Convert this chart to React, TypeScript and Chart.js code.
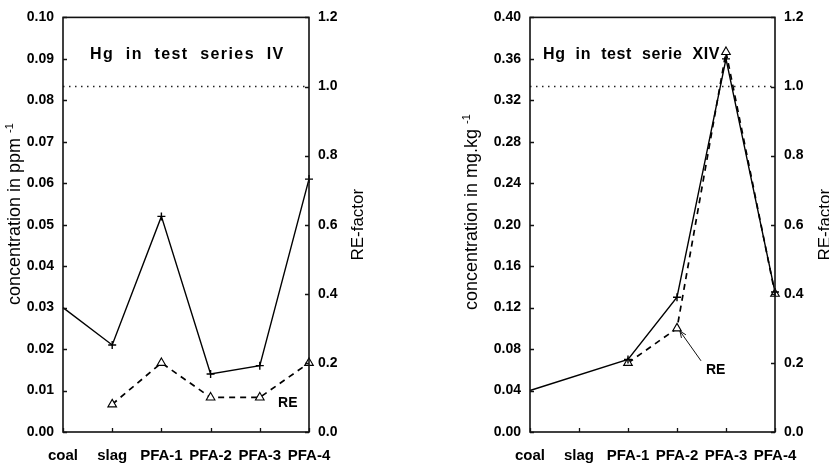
import React, { useEffect, useRef } from "react";
import { Chart, registerables } from "chart.js";
Chart.register(...registerables);

// ---- data ----
const categories = ["coal", "slag", "PFA-1", "PFA-2", "PFA-3", "PFA-4"];
// test series IV (concentration in ppm, RE-factor)
const concIV = [0.03, 0.021, 0.052, 0.014, 0.016, 0.061];
const reIV = [null, 0.08, 0.2, 0.1, 0.1, 0.2];
// test serie XIV (concentration in mg/kg, RE-factor)
const concXIV = [0.04, null, 0.07, 0.13, 0.36, 0.135];
const reXIV = [null, null, 0.2, 0.3, 1.1, 0.4];
// RE = 1.0 reference
const refIV = [1, 1, 1, 1, 1, 1];
const refXIV = [1, 1, 1, 1, 1, 1];
const concTicksIV = { min: 0, max: 0.1, step: 0.01 };
const concTicksXIV = { min: 0, max: 0.4, step: 0.04 };
const reTicks = { min: 0, max: 1.2, step: 0.2 };

const FONT = "'Liberation Sans', Arial, Helvetica, sans-serif";

type Cfg = {
  conc: (number | null)[];
  re: (number | null)[];
  ref: number[];
  concTicks: { min: number; max: number; step: number };
  leftW: number;
  rightW: number;
  title: string;
  titleDx: number;
  titleSpacing: string;
  yTitle: string;
  yTitleX: number;
  yTitleBottom: number;
  reTitleX: number;
  reLabel: { x: number; y: number };
  arrow?: { x1: number; y1: number; x2: number; y2: number };
};

function makeChart(canvas: HTMLCanvasElement, cfg: Cfg) {
  const tickFont = { family: FONT, size: 14, weight: "bold" as const };
  const xFont = { family: FONT, size: 15, weight: "bold" as const };
  const overlay = {
    id: "overlay",
    afterDraw(chart: any) {
      const ctx = chart.ctx as CanvasRenderingContext2D;
      const { left, right, top, bottom } = chart.chartArea;
      const xs = chart.scales.x;
      const ys = chart.scales.y;
      const y1s = chart.scales.y1;
      ctx.save();
      ctx.strokeStyle = "#111";
      ctx.lineWidth = 1.6;
      ctx.strokeRect(left, top, right - left, bottom - top);
      ctx.lineWidth = 1.3;
      ctx.beginPath();
      ys.ticks.forEach((t: any) => {
        const p = Math.round(ys.getPixelForValue(t.value)) + 0.5;
        ctx.moveTo(left, p);
        ctx.lineTo(left + 4, p);
      });
      y1s.ticks.forEach((t: any) => {
        const p = Math.round(y1s.getPixelForValue(t.value)) + 0.5;
        ctx.moveTo(right - 4, p);
        ctx.lineTo(right, p);
      });
      categories.forEach((_, i) => {
        const p = Math.round(xs.getPixelForValue(i)) + 0.5;
        ctx.moveTo(p, bottom);
        ctx.lineTo(p, bottom - 4);
      });
      ctx.stroke();

      ctx.fillStyle = "#000";
      // title
      ctx.font = `bold 16px ${FONT}`;
      (ctx as any).letterSpacing = cfg.titleSpacing;
      ctx.textAlign = "left";
      ctx.textBaseline = "middle";
      ctx.fillText(cfg.title, left + cfg.titleDx, top + 37);
      (ctx as any).letterSpacing = "0px";

      // RE label
      ctx.font = `bold 14px ${FONT}`;
      ctx.textAlign = "center";
      const lx = xs.getPixelForValue(cfg.reLabel.x);
      const ly = y1s.getPixelForValue(cfg.reLabel.y);
      ctx.fillText("RE", lx, ly);
      if (cfg.arrow) {
        const ax1 = xs.getPixelForValue(cfg.arrow.x1);
        const ay1 = y1s.getPixelForValue(cfg.arrow.y1);
        const ax2 = xs.getPixelForValue(cfg.arrow.x2);
        const ay2 = y1s.getPixelForValue(cfg.arrow.y2);
        ctx.lineWidth = 1;
        ctx.beginPath();
        ctx.moveTo(ax1, ay1);
        ctx.lineTo(ax2, ay2);
        const ang = Math.atan2(ay2 - ay1, ax2 - ax1);
        const h = 7;
        ctx.moveTo(ax2 - h * Math.cos(ang - 0.4), ay2 - h * Math.sin(ang - 0.4));
        ctx.lineTo(ax2, ay2);
        ctx.lineTo(ax2 - h * Math.cos(ang + 0.4), ay2 - h * Math.sin(ang + 0.4));
        ctx.stroke();
      }

      // y title (left)
      ctx.save();
      ctx.translate(cfg.yTitleX, cfg.yTitleBottom);
      ctx.rotate(-Math.PI / 2);
      ctx.font = `18px ${FONT}`;
      ctx.textAlign = "left";
      ctx.textBaseline = "middle";
      ctx.fillText(cfg.yTitle, 0, 0);
      const w = ctx.measureText(cfg.yTitle).width;
      ctx.font = `11px ${FONT}`;
      ctx.fillText("-1", w + 5, -5);
      ctx.restore();

      // RE-factor title (right)
      ctx.save();
      ctx.translate(cfg.reTitleX, (top + bottom) / 2);
      ctx.rotate(-Math.PI / 2);
      ctx.font = `17px ${FONT}`;
      ctx.textAlign = "center";
      ctx.textBaseline = "middle";
      ctx.fillText("RE-factor", 0, 0);
      ctx.restore();

      ctx.restore();
    },
  };

  return new Chart(canvas, {
    type: "line",
    data: {
      labels: categories,
      datasets: [
        {
          data: cfg.ref,
          yAxisID: "y1",
          borderColor: "#222",
          borderWidth: 1.5,
          borderDash: [1.5, 4.5],
          pointRadius: 0,
          clip: false as any,
        },
        {
          data: cfg.conc,
          yAxisID: "y",
          borderColor: "#000",
          borderWidth: 1.4,
          pointStyle: "cross",
          pointRadius: [0, 4, 4, 4, 4, 4],
          pointBorderWidth: 1.4,
          pointBorderColor: "#000",
          spanGaps: true,
          tension: 0,
          clip: false as any,
        },
        {
          data: cfg.re,
          yAxisID: "y1",
          borderColor: "#000",
          borderWidth: 1.7,
          borderDash: [6, 5],
          pointStyle: "triangle",
          pointRadius: 5,
          pointBorderWidth: 1.1,
          pointBorderColor: "#000",
          pointBackgroundColor: "#fff",
          spanGaps: true,
          tension: 0,
          clip: false as any,
        },
      ],
    },
    options: {
      animation: false,
      responsive: false,
      devicePixelRatio: 1,
      layout: { padding: { top: 13, left: 0, right: 0, bottom: 0 } },
      plugins: { legend: { display: false }, tooltip: { enabled: false } },
      scales: {
        x: {
          type: "category",
          offset: false,
          grid: { display: false, drawTicks: false },
          border: { display: false },
          ticks: { font: xFont, color: "#000", padding: 15, maxRotation: 0, autoSkip: false },
          afterFit: (s: any) => {
            s.height = 34;
          },
        },
        y: {
          position: "left",
          min: cfg.concTicks.min,
          max: cfg.concTicks.max,
          grid: { display: false, drawTicks: false },
          border: { display: false },
          ticks: {
            stepSize: cfg.concTicks.step,
            font: tickFont,
            color: "#000",
            padding: 9,
            callback: (v: any) => Number(v).toFixed(2),
          },
          afterFit: (s: any) => {
            s.width = cfg.leftW;
          },
        },
        y1: {
          position: "right",
          min: reTicks.min,
          max: reTicks.max,
          grid: { display: false, drawTicks: false },
          border: { display: false },
          ticks: {
            stepSize: reTicks.step,
            font: tickFont,
            color: "#000",
            padding: 9,
            callback: (v: any) => Number(v).toFixed(1),
          },
          afterFit: (s: any) => {
            s.width = cfg.rightW;
          },
        },
      },
    } as any,
    plugins: [overlay],
  });
}

export default function App() {
  const r1 = useRef<HTMLCanvasElement>(null);
  const r2 = useRef<HTMLCanvasElement>(null);
  useEffect(() => {
    const c1 = makeChart(r1.current!, {
      conc: concIV,
      re: reIV,
      ref: refIV,
      concTicks: concTicksIV,
      leftW: 63,
      rightW: 106,
      title: "Hg  in  test  series  IV",
      titleDx: 27,
      titleSpacing: "1.4px",
      yTitle: "concentration in ppm",
      yTitleX: 15,
      yTitleBottom: 305,
      reTitleX: 358,
      reLabel: { x: 4.57, y: 0.083 },
    });
    const c2 = makeChart(r2.current!, {
      conc: concXIV,
      re: reXIV,
      ref: refXIV,
      concTicks: concTicksXIV,
      leftW: 115,
      rightW: 54,
      title: "Hg  in  test  serie  XIV",
      titleDx: 13,
      titleSpacing: "0.6px",
      yTitle: "concentration in mg.kg",
      yTitleX: 57,
      yTitleBottom: 310,
      reTitleX: 410,
      reLabel: { x: 3.79, y: 0.18 },
      arrow: { x1: 3.49, y1: 0.206, x2: 3.06, y2: 0.292 },
    });
    return () => {
      c1.destroy();
      c2.destroy();
    };
  }, []);
  return (
    <div style={{ position: "absolute", left: 0, top: 0, width: 829, height: 466, background: "#fff" }}>
      <canvas ref={r1} width={415} height={466} style={{ position: "absolute", left: 0, top: 0 }} />
      <canvas ref={r2} width={414} height={466} style={{ position: "absolute", left: 415, top: 0 }} />
    </div>
  );
}
